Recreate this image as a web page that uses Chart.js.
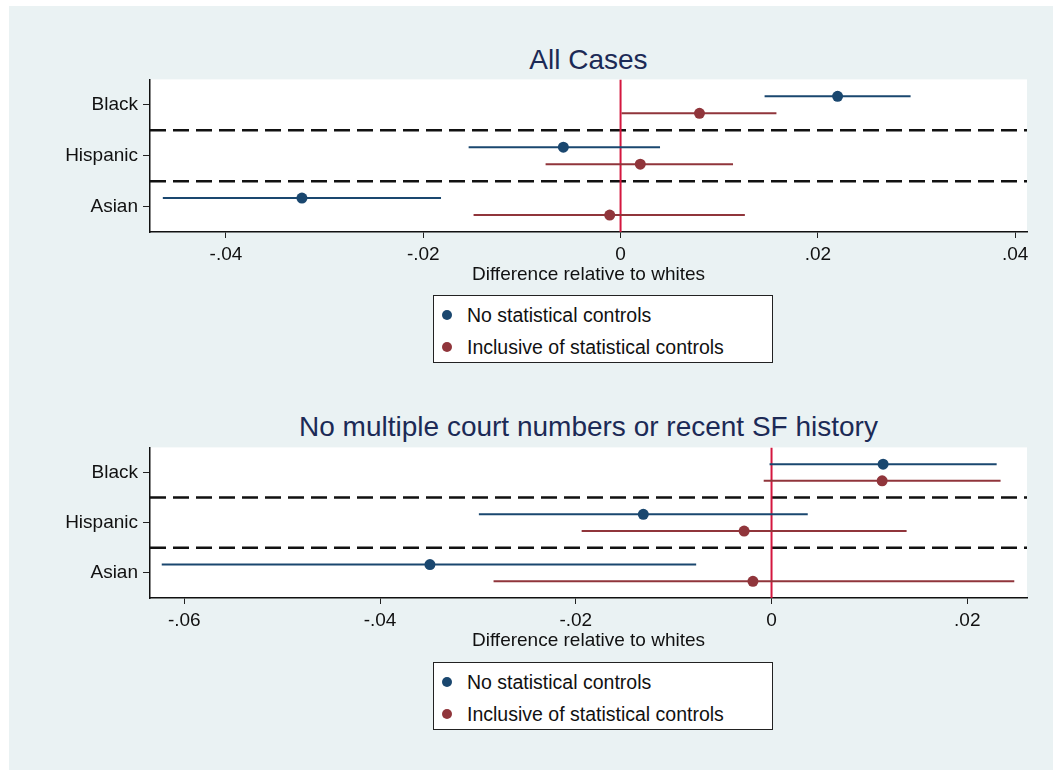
<!DOCTYPE html>
<html>
<head>
<meta charset="utf-8">
<script src="https://cdn.jsdelivr.net/npm/chart.js@4.4.0/dist/chart.umd.min.js"></script>
<style>
  body { margin: 0; background: #fff; font-family: Arial, "Liberation Sans", Helvetica, sans-serif; }
  #page { position: relative; width: 1053px; height: 770px; overflow: hidden; }
  #panel { position: absolute; left: 9px; top: 6px; right: 0; bottom: 0; background: #eaf2f3; }
  canvas { position: absolute; left: 0; }
  .title { position: absolute; left: 150px; width: 877px; text-align: center; font-size: 28px; color: #1c2a56; white-space: nowrap; }
  .legend { position: absolute; left: 433px; width: 338px; height: 66px; border: 1px solid #222; background: #fff; font-size: 19.5px; color: #111; }
  .legend div { position: absolute; left: 33px; white-space: nowrap; }
  .legend span { position: absolute; left: -25px; top: 6px; width: 10px; height: 10px; border-radius: 50%; }
</style>
</head>
<body>
<div id="page">
  <div id="panel"></div>
  <div class="title" style="top:44px">All Cases</div>
  <canvas id="chartAll" width="1053" height="227" style="top:63px"></canvas>
  <div class="legend" style="top:295px">
    <div style="top:8px"><span style="background:#1a476f"></span>No statistical controls</div>
    <div style="top:40px"><span style="background:#90353b"></span>Inclusive of statistical controls</div>
  </div>
  <div class="title" style="top:411px">No multiple court numbers or recent SF history</div>
  <canvas id="chartSub" width="1053" height="225" style="top:431px"></canvas>
  <div class="legend" style="top:662px">
    <div style="top:8px"><span style="background:#1a476f"></span>No statistical controls</div>
    <div style="top:40px"><span style="background:#90353b"></span>Inclusive of statistical controls</div>
  </div>
</div>
<script>
const groups = ["Black", "Hispanic", "Asian"];

// All cases: point estimates and 95% bounds
const allNoCtrl   = [0.0220, -0.0058, -0.0323];
const allNoCtrlLo = [0.0146, -0.0154, -0.0464];
const allNoCtrlHi = [0.0294,  0.0040, -0.0182];
const allCtrl     = [0.0080,  0.0020, -0.0011];
const allCtrlLo   = [0.0001, -0.0076, -0.0149];
const allCtrlHi   = [0.0158,  0.0114,  0.0126];
const allTicks    = [-0.04, -0.02, 0, 0.02, 0.04];

// No multiple court numbers or recent SF history
const subNoCtrl   = [0.0114, -0.0131, -0.0349];
const subNoCtrlLo = [-0.0002, -0.0299, -0.0623];
const subNoCtrlHi = [0.0230,  0.0037, -0.0077];
const subCtrl     = [0.0113, -0.0028, -0.0019];
const subCtrlLo   = [-0.0008, -0.0194, -0.0284];
const subCtrlHi   = [0.0234,  0.0138,  0.0248];
const subTicks    = [-0.06, -0.04, -0.02, 0, 0.02];

const BLUE = "#1a476f";
const RED = "#90353b";

Chart.defaults.font.family = "Arial, 'Liberation Sans', Helvetica, sans-serif";
Chart.defaults.color = "#111";

// stata style tick text: -.04, 0, .02
function fmt(v) {
  if (Math.abs(v) < 1e-9) return "0";
  return v.toFixed(2).replace("0.", ".");
}

const whitePlot = {
  id: "whitePlot",
  beforeDraw(chart) {
    const a = chart.chartArea;
    chart.ctx.save();
    chart.ctx.fillStyle = "#fff";
    chart.ctx.fillRect(a.left, a.top, a.right - a.left, a.bottom - a.top);
    chart.ctx.restore();
  }
};

function buildDatasets(est, lo, hi, color, shift) {
  const sets = [];
  for (let i = 0; i < groups.length; i++) {
    sets.push({
      data: [{ x: lo[i], y: i + 1 + shift }, { x: hi[i], y: i + 1 + shift }],
      showLine: true,
      borderColor: color,
      borderWidth: 2,
      pointRadius: 0,
      order: 2
    });
  }
  sets.push({
    data: est.map((v, i) => ({ x: v, y: i + 1 + shift })),
    showLine: false,
    pointRadius: 5.5,
    pointBackgroundColor: color,
    pointBorderWidth: 0,
    order: 1
  });
  return sets;
}

function makeChart(id, xmin, xmax, ticks, series) {
  let datasets = [];
  // dashed separators between groups
  [1.5, 2.5].forEach(y => {
    datasets.push({
      data: [{ x: xmin, y: y }, { x: xmax, y: y }],
      showLine: true,
      borderColor: "#111",
      borderWidth: 2.5,
      borderDash: [16, 7],
      pointRadius: 0,
      order: 4
    });
  });
  // reference line at zero
  datasets.push({
    data: [{ x: 0, y: 0.5 }, { x: 0, y: 3.5 }],
    showLine: true,
    borderColor: "#d4173f",
    borderWidth: 2,
    pointRadius: 0,
    order: 3
  });
  datasets = datasets.concat(
    buildDatasets(series[0], series[1], series[2], BLUE, -1 / 6),
    buildDatasets(series[3], series[4], series[5], RED, 1 / 6)
  );

  return new Chart(document.getElementById(id), {
    type: "scatter",
    data: { datasets: datasets },
    options: {
      responsive: false,
      animation: false,
      layout: { padding: { top: 9, right: 26, left: 0, bottom: 0 } },
      plugins: { legend: { display: false }, tooltip: { enabled: false } },
      scales: {
        x: {
          type: "linear",
          min: xmin,
          max: xmax,
          afterBuildTicks: s => { s.ticks = ticks.map(v => ({ value: v })); },
          afterFit: s => { s.height = 58; },
          ticks: { callback: v => fmt(v), font: { size: 19 }, padding: 5, maxRotation: 0 },
          grid: { drawOnChartArea: false, drawTicks: true, tickLength: 6, color: "#222" },
          border: { display: true, color: "#111", width: 1.5 },
          title: { display: true, text: "Difference relative to whites", font: { size: 19 }, padding: { top: 0, bottom: 4 } }
        },
        y: {
          type: "linear",
          min: 0.5,
          max: 3.5,
          reverse: true,
          afterBuildTicks: s => { s.ticks = [1, 2, 3].map(v => ({ value: v })); },
          afterFit: s => { s.width = 150; },
          ticks: { callback: v => groups[v - 1], font: { size: 19 }, padding: 5 },
          grid: { drawOnChartArea: false, drawTicks: true, tickLength: 7, color: "#222" },
          border: { display: true, color: "#111", width: 1.5 }
        }
      }
    },
    plugins: [whitePlot]
  });
}

makeChart("chartAll", -0.0477, 0.0412, allTicks,
  [allNoCtrl, allNoCtrlLo, allNoCtrlHi, allCtrl, allCtrlLo, allCtrlHi]);
makeChart("chartSub", -0.0635, 0.0261, subTicks,
  [subNoCtrl, subNoCtrlLo, subNoCtrlHi, subCtrl, subCtrlLo, subCtrlHi]);
</script>
</body>
</html>
